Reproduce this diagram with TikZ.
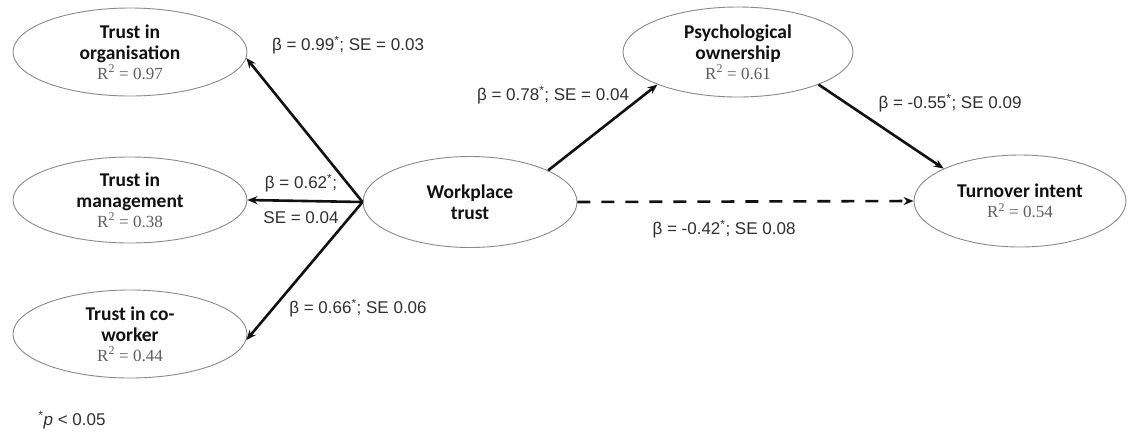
\documentclass[tikz,border=0pt]{standalone}
\usepackage{fontspec}
\setmainfont{Carlito}
\newfontfamily\coeffont{Liberation Sans}
\newfontfamily\rsqfont{Liberation Serif}
\usetikzlibrary{arrows.meta, shapes.geometric}
\definecolor{rimgray}{HTML}{8A8A8A}
\definecolor{rsqgray}{HTML}{5E5E5E}
\definecolor{inkblack}{HTML}{111111}

\newcommand{\rsq}[1]{\\[-1pt]{\rsqfont\mdseries\fontsize{17}{20}\selectfont\color{rsqgray}R\textsuperscript{2} = #1}}

\begin{document}
\begin{tikzpicture}[x=1pt, y=-1pt,
  >={Stealth[length=10pt, width=8pt]},
  latent/.style={ellipse, draw=rimgray, line width=0.9pt, fill=white, inner sep=0pt,
    align=center, font=\fontsize{19.5}{21}\selectfont\bfseries, text=inkblack},
  effect/.style={->, draw=inkblack, line width=2.6pt},
  coef/.style={font=\coeffont\fontsize{17}{20}\selectfont, text=rsqgray!50!black, inner sep=0pt}]

% Frame
\useasboundingbox (0,0) rectangle (1128,432);

% Latent variables
\node[latent, minimum width=234pt, minimum height=88pt] (org) at (130,52) {Trust in\\organisation\rsq{0.97}};
\node[latent, minimum width=234pt, minimum height=86pt] (mgmt) at (130,200) {Trust in\\management\rsq{0.38}};
\node[latent, minimum width=234pt, minimum height=88pt] (cowork) at (130,334) {Trust in co-\\worker\rsq{0.44}};
\node[latent, minimum width=214pt, minimum height=91pt] (wtrust) at (470,202) {Workplace\\trust};
\node[latent, minimum width=230pt, minimum height=90pt] (pown) at (738,52) {Psychological\\ownership\rsq{0.61}};
\node[latent, minimum width=212pt, minimum height=92pt] (turn) at (1020,201) {Turnover intent\rsq{0.54}};

% Paths from workplace trust
\draw[effect] (wtrust.west) -- (org.-3);
\draw[effect] (wtrust.west) -- (mgmt.east);
\draw[effect] (wtrust.west) -- (cowork.-3);
\draw[effect] (wtrust.22) -- (pown.202);
\draw[effect] (pown.-22) -- (turn.157);
\draw[effect, dash pattern=on 13pt off 11pt] (wtrust.east) -- (turn.west);

% Coefficients
\node[coef] (korg) at (348,45) {β = 0.99\textsuperscript{*}; SE = 0.03};
\node[coef] (kmgmta) at (301,183) {β = 0.62\textsuperscript{*};};
\node[coef] (kmgmtb) at (301,218) {SE = 0.04};
\node[coef] (kcowork) at (358,308) {β = 0.66\textsuperscript{*}; SE 0.06};
\node[coef] (kpown) at (553,95) {β = 0.78\textsuperscript{*}; SE = 0.04};
\node[coef] (kturn) at (950,103) {β = -0.55\textsuperscript{*}; SE 0.09};
\node[coef] (kdirect) at (724,229) {β = -0.42\textsuperscript{*}; SE 0.08};

% Note
\node[coef] (note) at (72,420) {\textsuperscript{*}\emph{p} < 0.05};

\end{tikzpicture}
\end{document}
